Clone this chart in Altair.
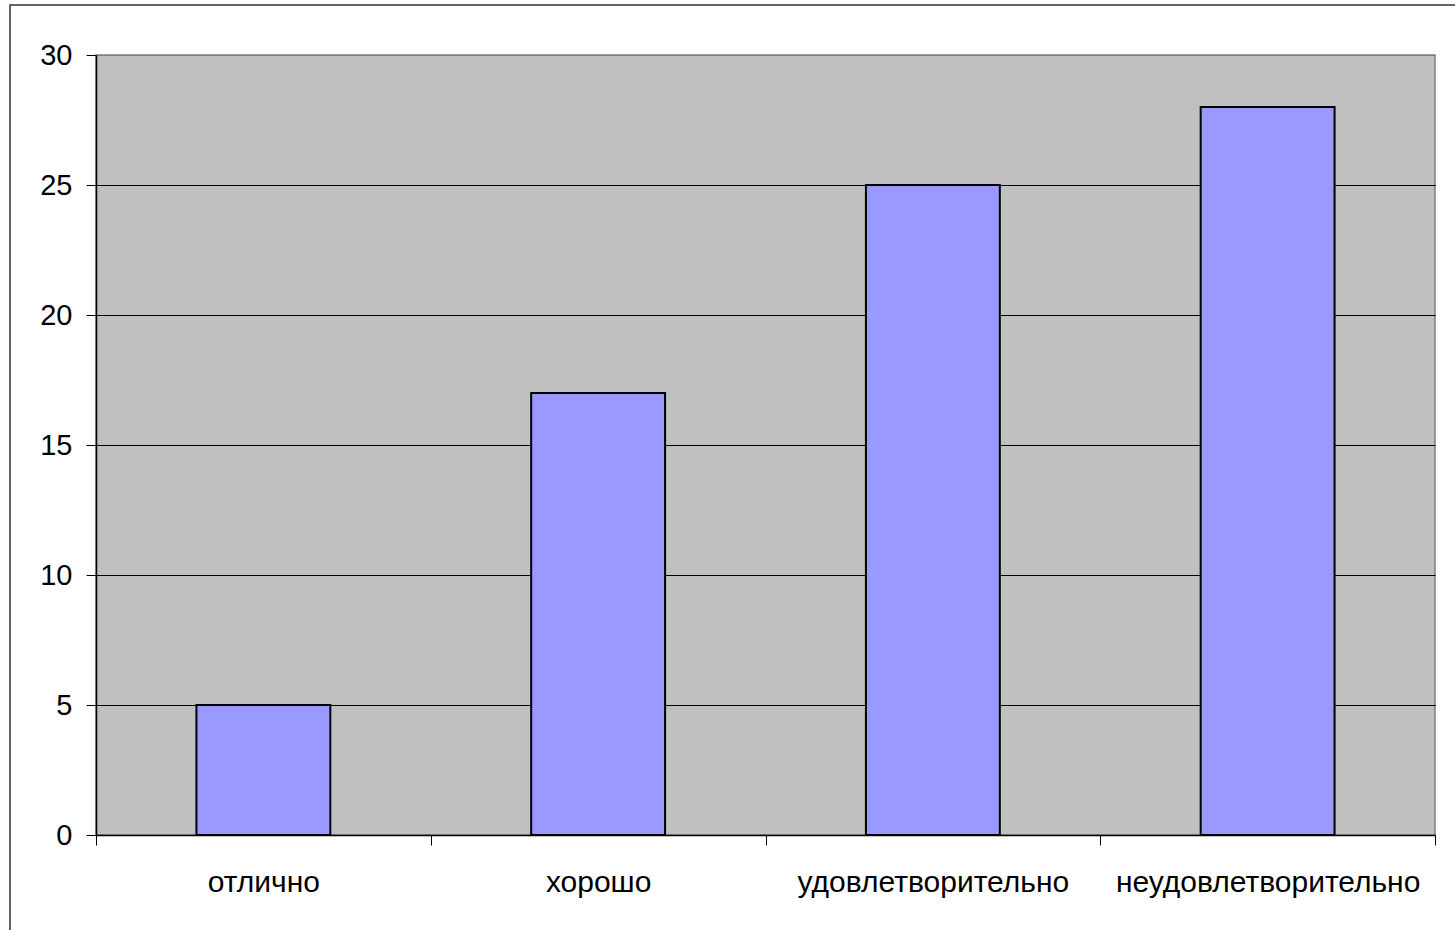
import altair as alt
import pandas as pd

# Grade distribution
grades = ["отлично", "хорошо", "удовлетворительно", "неудовлетворительно"]
counts = [5, 17, 25, 28]
y_ticks = [0, 5, 10, 15, 20, 25, 30]

df = pd.DataFrame({"grade": grades, "count": counts})

FONT = "Liberation Sans"

bars = alt.Chart(df).mark_bar(
    color="#9999FF", stroke="black", strokeWidth=2,
    width=alt.RelativeBandSize(0.4),
).encode(
    x=alt.X(
        "grade:N",
        sort=grades,
        scale=alt.Scale(paddingInner=0, paddingOuter=0),
        axis=alt.Axis(
            title=None,
            labelAngle=0,
            labelLimit=0,
            tickBand="extent",
            tickSize=10,
            tickColor="black",
            domainColor="black",
            domainWidth=1.5,
            labelFontSize=30,
            labelPadding=22,
            labelColor="black",
            labelFont=FONT,
        ),
    ),
    y=alt.Y(
        "count:Q",
        scale=alt.Scale(domain=[0, 30], nice=False),
        axis=alt.Axis(
            title=None,
            values=y_ticks,
            grid=True,
            gridColor=alt.condition("datum.value == 30", alt.value("#808080"), alt.value("black")),
            gridWidth=1,
            tickSize=10,
            tickColor="black",
            domainColor="black",
            domainWidth=1.5,
            labelFontSize=29,
            labelPadding=14,
            labelColor="black",
            labelFont=FONT,
        ),
    ),
)

# Outer chart frame
frame = alt.Chart(alt.Data(values=[{}])).mark_rect(
    fill="transparent", stroke="#333333", strokeWidth=1.5
).encode(
    x=alt.value(-86), x2=alt.value(1400),
    y=alt.value(-50), y2=alt.value(900),
)

chart = alt.layer(frame, bars).properties(
    width=1339,
    height=780,
    autosize=alt.AutoSizeParams(type="none"),
    padding={"left": 96, "top": 55, "right": 20, "bottom": 95},
    background="white",
).configure_view(
    fill="#C0C0C0", stroke="#808080", strokeWidth=1.5
)

chart.save("out.html", embed_options={"renderer": "svg", "actions": False})
